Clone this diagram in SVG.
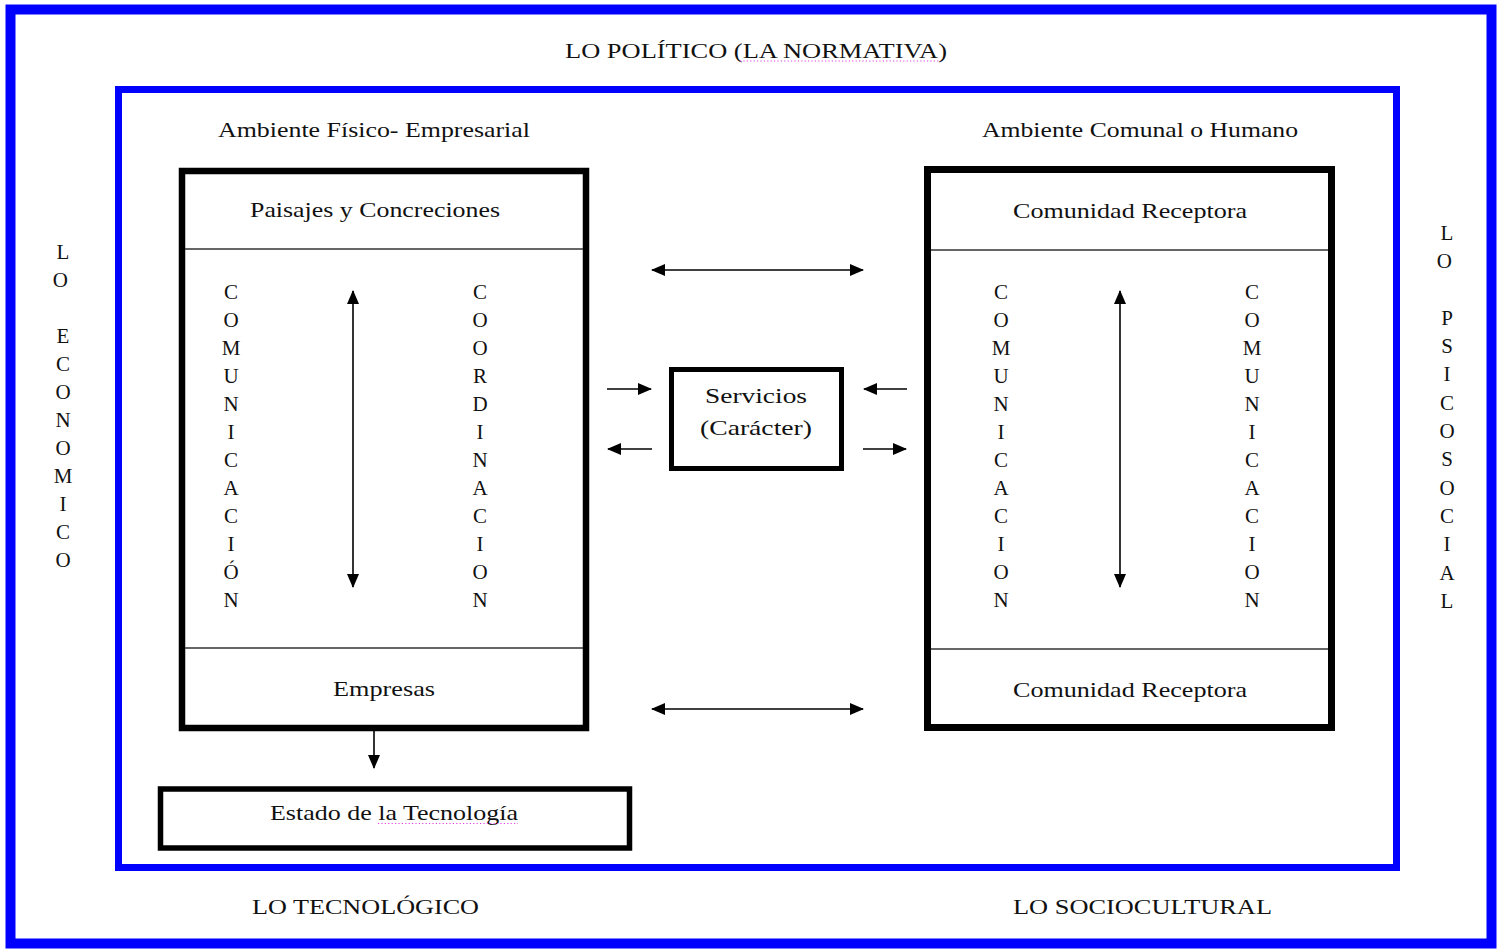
<svg xmlns="http://www.w3.org/2000/svg" width="1499" height="950" viewBox="0 0 1499 950">
<style>
  .t { font-family: "Liberation Serif", "DejaVu Serif", serif; font-size: 21px; fill: #111; }
  .v { font-family: "Liberation Serif", "DejaVu Serif", serif; font-size: 21px; fill: #111; text-anchor: middle; }
  .frame { fill: none; stroke: #0000ff; }
  .box { fill: #fff; stroke: #000; }
  .div { stroke: #333; stroke-width: 1.5; }
  .arr { stroke: #000; stroke-width: 1.6; fill: none; }
  .sq { stroke: #e040e0; stroke-width: 1.2; stroke-dasharray: 1.2 2.2; }
</style>
<defs>
  <marker id="ah" markerUnits="userSpaceOnUse" markerWidth="14" markerHeight="12" refX="13" refY="6" orient="auto-start-reverse">
    <path d="M0,0 L14,6 L0,12 z" fill="#000"/>
  </marker>
</defs>
<rect width="1499" height="950" fill="#fff"/>

<g id="outer-frame">
  <rect class="frame" x="10.5" y="9.5" width="1481" height="934" stroke-width="10"/>
  <text class="t" x="565" y="58" textLength="382" lengthAdjust="spacingAndGlyphs">LO POLÍTICO (LA NORMATIVA)</text>
  <line class="sq" x1="740" y1="61" x2="940" y2="61"/>
  <text class="t" x="252" y="914" textLength="227" lengthAdjust="spacingAndGlyphs">LO TECNOLÓGICO</text>
  <text class="t" x="1013" y="914" textLength="259" lengthAdjust="spacingAndGlyphs">LO SOCIOCULTURAL</text>
  <text class="v">
    <tspan x="63" y="259">L</tspan><tspan x="63" y="287">O</tspan>
    <tspan x="63" y="343">E</tspan><tspan x="63" y="371">C</tspan><tspan x="63" y="399">O</tspan><tspan x="63" y="427">N</tspan><tspan x="63" y="455">O</tspan><tspan x="63" y="483">M</tspan><tspan x="63" y="511">I</tspan><tspan x="63" y="539">C</tspan><tspan x="63" y="567">O</tspan>
  </text>
  <text class="v">
    <tspan x="1447" y="240">L</tspan><tspan x="1447" y="268">O</tspan>
    <tspan x="1447" y="325">P</tspan><tspan x="1447" y="353">S</tspan><tspan x="1447" y="381">I</tspan><tspan x="1447" y="410">C</tspan><tspan x="1447" y="438">O</tspan><tspan x="1447" y="466">S</tspan><tspan x="1447" y="495">O</tspan><tspan x="1447" y="523">C</tspan><tspan x="1447" y="551">I</tspan><tspan x="1447" y="580">A</tspan><tspan x="1447" y="608">L</tspan>
  </text>
</g>

<g id="inner-frame">
  <rect class="frame" x="118.5" y="89.5" width="1278" height="778" stroke-width="7"/>
  <text class="t" x="218" y="137" textLength="312" lengthAdjust="spacingAndGlyphs">Ambiente Físico- Empresarial</text>
  <text class="t" x="982" y="137" textLength="316" lengthAdjust="spacingAndGlyphs">Ambiente Comunal o Humano</text>
</g>

<g id="ambiente-fisico">
  <rect class="box" x="182" y="171" width="404" height="557" stroke-width="6.5"/>
  <line class="div" x1="185" y1="249" x2="583" y2="249"/>
  <line class="div" x1="185" y1="648" x2="583" y2="648"/>
  <text class="t" x="250" y="217" textLength="250" lengthAdjust="spacingAndGlyphs">Paisajes y Concreciones</text>
  <text class="t" x="333" y="696" textLength="102" lengthAdjust="spacingAndGlyphs">Empresas</text>
  <text class="v">
    <tspan x="231" y="299">C</tspan><tspan x="231" y="327">O</tspan><tspan x="231" y="355">M</tspan><tspan x="231" y="383">U</tspan><tspan x="231" y="411">N</tspan><tspan x="231" y="439">I</tspan><tspan x="231" y="467">C</tspan><tspan x="231" y="495">A</tspan><tspan x="231" y="523">C</tspan><tspan x="231" y="551">I</tspan><tspan x="231" y="579">Ó</tspan><tspan x="231" y="607">N</tspan>
  </text>
  <text class="v">
    <tspan x="480" y="299">C</tspan><tspan x="480" y="327">O</tspan><tspan x="480" y="355">O</tspan><tspan x="480" y="383">R</tspan><tspan x="480" y="411">D</tspan><tspan x="480" y="439">I</tspan><tspan x="480" y="467">N</tspan><tspan x="480" y="495">A</tspan><tspan x="480" y="523">C</tspan><tspan x="480" y="551">I</tspan><tspan x="480" y="579">O</tspan><tspan x="480" y="607">N</tspan>
  </text>
</g>

<g id="ambiente-comunal">
  <rect class="box" x="927.5" y="169.5" width="404" height="558" stroke-width="7"/>
  <line class="div" x1="931" y1="250" x2="1328" y2="250"/>
  <line class="div" x1="931" y1="649" x2="1328" y2="649"/>
  <text class="t" x="1013" y="218" textLength="234" lengthAdjust="spacingAndGlyphs">Comunidad Receptora</text>
  <text class="t" x="1013" y="697" textLength="234" lengthAdjust="spacingAndGlyphs">Comunidad Receptora</text>
  <text class="v">
    <tspan x="1001" y="299">C</tspan><tspan x="1001" y="327">O</tspan><tspan x="1001" y="355">M</tspan><tspan x="1001" y="383">U</tspan><tspan x="1001" y="411">N</tspan><tspan x="1001" y="439">I</tspan><tspan x="1001" y="467">C</tspan><tspan x="1001" y="495">A</tspan><tspan x="1001" y="523">C</tspan><tspan x="1001" y="551">I</tspan><tspan x="1001" y="579">O</tspan><tspan x="1001" y="607">N</tspan>
  </text>
  <text class="v">
    <tspan x="1252" y="299">C</tspan><tspan x="1252" y="327">O</tspan><tspan x="1252" y="355">M</tspan><tspan x="1252" y="383">U</tspan><tspan x="1252" y="411">N</tspan><tspan x="1252" y="439">I</tspan><tspan x="1252" y="467">C</tspan><tspan x="1252" y="495">A</tspan><tspan x="1252" y="523">C</tspan><tspan x="1252" y="551">I</tspan><tspan x="1252" y="579">O</tspan><tspan x="1252" y="607">N</tspan>
  </text>
</g>

<g id="servicios">
  <rect class="box" x="671.5" y="369.5" width="170" height="99" stroke-width="5"/>
  <text class="t" x="705" y="403" textLength="102" lengthAdjust="spacingAndGlyphs">Servicios</text>
  <text class="t" x="700" y="435" textLength="112" lengthAdjust="spacingAndGlyphs">(Carácter)</text>
</g>

<g id="estado-tecnologia">
  <rect class="box" x="160.5" y="789" width="469" height="59" stroke-width="5.5"/>
  <text class="t" x="270" y="820" textLength="248" lengthAdjust="spacingAndGlyphs">Estado de la Tecnología</text>
  <line class="sq" x1="378" y1="823.5" x2="518" y2="823.5"/>
</g>

<g id="connectors">
  <line class="arr" x1="652" y1="270" x2="863" y2="270" marker-start="url(#ah)" marker-end="url(#ah)"/>
  <line class="arr" x1="652" y1="709" x2="863" y2="709" marker-start="url(#ah)" marker-end="url(#ah)"/>
  <line class="arr" x1="607" y1="389" x2="651" y2="389" marker-end="url(#ah)"/>
  <line class="arr" x1="652" y1="449" x2="608" y2="449" marker-end="url(#ah)"/>
  <line class="arr" x1="907" y1="389" x2="864" y2="389" marker-end="url(#ah)"/>
  <line class="arr" x1="863" y1="449" x2="906" y2="449" marker-end="url(#ah)"/>
  <line class="arr" x1="353" y1="291" x2="353" y2="587" marker-start="url(#ah)" marker-end="url(#ah)"/>
  <line class="arr" x1="1120" y1="291" x2="1120" y2="587" marker-start="url(#ah)" marker-end="url(#ah)"/>
  <line class="arr" x1="374" y1="731" x2="374" y2="768" marker-end="url(#ah)"/>
</g>
</svg>
